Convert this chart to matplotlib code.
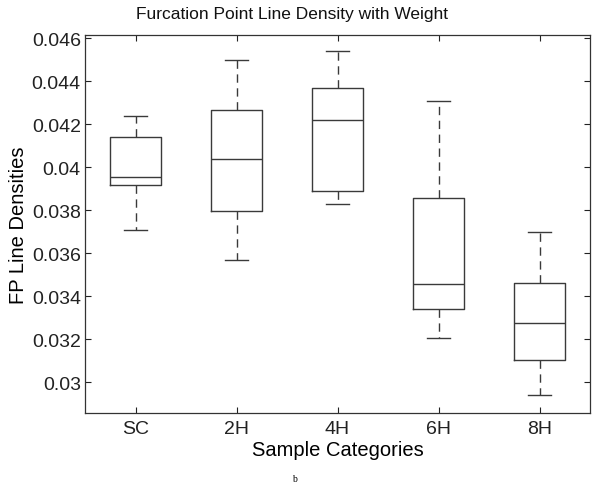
import matplotlib
matplotlib.use("Agg")
import matplotlib.pyplot as plt

categories = ["SC", "2H", "4H", "6H", "8H"]
whisker_low = [0.03708, 0.03567, 0.03826, 0.03206, 0.02938]
q1 = [0.03918, 0.03795, 0.03888, 0.03340, 0.03102]
median = [0.03954, 0.04036, 0.04217, 0.03456, 0.03276]
q3 = [0.04138, 0.04264, 0.04369, 0.03856, 0.03462]
whisker_high = [0.04239, 0.04498, 0.04538, 0.04307, 0.03698]
ytick_values = [0.03, 0.032, 0.034, 0.036, 0.038, 0.04, 0.042, 0.044, 0.046]
ytick_labels = ["0.03", "0.032", "0.034", "0.036", "0.038", "0.04", "0.042", "0.044", "0.046"]

plt.rcParams['font.family'] = ['Liberation Sans', 'DejaVu Sans']

fig = plt.figure(figsize=(6.0, 4.85), dpi=100)
ax = fig.add_axes([85/600, 1 - 414/485, 505/600, 378/485])

stats = []
for i, c in enumerate(categories):
    stats.append(dict(label=c, whislo=whisker_low[i], q1=q1[i], med=median[i],
                      q3=q3[i], whishi=whisker_high[i], fliers=[]))

lc = "#3a3a3a"
ax.bxp(stats, positions=range(1, len(categories) + 1), widths=0.5,
       capwidths=0.23, showfliers=False,
       boxprops=dict(color=lc, linewidth=1.0),
       medianprops=dict(color=lc, linewidth=1.0),
       whiskerprops=dict(color=lc, linewidth=1.0, linestyle=(0, (6, 4))),
       capprops=dict(color=lc, linewidth=1.0))

ax.set_xlim(0.5, 5.5)
ax.set_ylim(0.02856, 0.04614)
ax.set_yticks(ytick_values)
ax.set_yticklabels(ytick_labels)
ax.set_xticks(range(1, len(categories) + 1))
ax.set_xticklabels(categories)
ax.tick_params(direction="in", length=4, width=0.8, top=True, right=True,
               labelsize=14, colors="#222222")
ax.tick_params(axis="y", pad=3)
ax.tick_params(axis="x", pad=5)
for s in ax.spines.values():
    s.set_color("#333333")
    s.set_linewidth(0.9)

fig.text(292/600, 1 - 15/485, "Furcation Point Line Density with Weight",
         fontsize=12.5, ha="center", va="center", color="#111111")
ax.set_xlabel("Sample Categories", fontsize=14.5, labelpad=2)
ax.set_ylabel("FP Line Densities", fontsize=14.5, labelpad=3)

fig.text(294/600, 1 - 480/485, "b", fontsize=7, family=["Liberation Serif", "DejaVu Serif"],
         ha="center", va="center")

fig.savefig("out.png", dpi=100)
